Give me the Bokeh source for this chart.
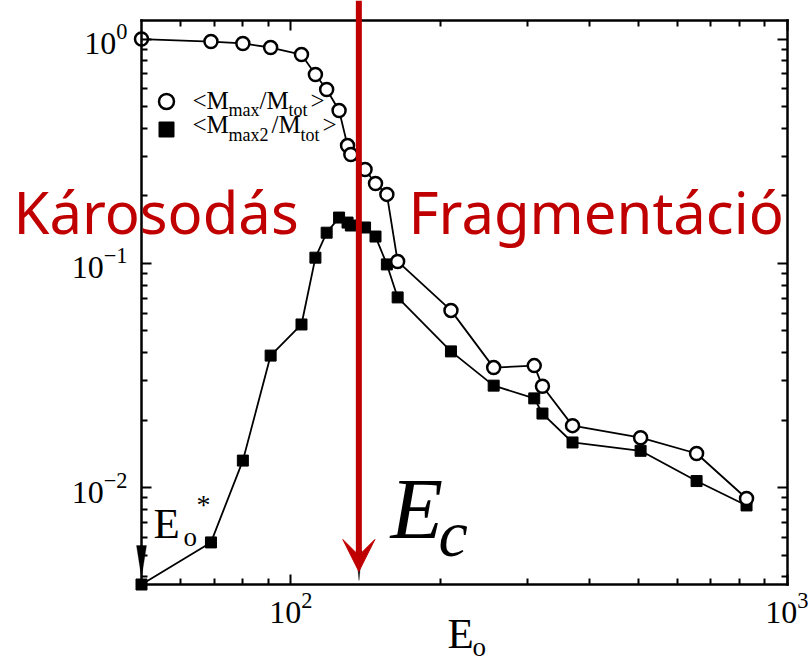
import numpy as np
from bokeh.plotting import figure
from bokeh.models import (Label, Arrow, VeeHead, FixedTicker, LogAxis,
                          PolyAnnotation, ColumnDataSource)
from bokeh.embed import file_html
from bokeh.resources import INLINE

# Impact energy E_o and the mean mass fractions of the largest fragments
energy = [50, 69, 80, 91, 105, 112, 118, 125, 130, 132, 141, 148, 156, 164,
          210, 256, 309, 321, 369, 506, 656, 827]
m_max = [1.0, 0.975, 0.956, 0.917, 0.853, 0.695, 0.596, 0.480, 0.335, 0.306,
         0.262, 0.227, 0.203, 0.102, 0.0617, 0.0343, 0.0350, 0.0283, 0.0189,
         0.0167, 0.0142, 0.00895]
m_max2 = [0.0037, 0.0057, 0.0132, 0.0388, 0.0534, 0.106, 0.137, 0.160, 0.152,
          0.1475, 0.1445, 0.1317, 0.0989, 0.0705, 0.0405, 0.0285, 0.0250,
          0.0214, 0.0159, 0.0146, 0.0107, 0.00833]

# critical energy separating damage and fragmentation
e_critical = 137
# threshold energy E_o*
e_star = 50

x_major = [100, 1000]
x_minor = [60, 70, 80, 90, 200, 300, 400, 500, 600, 700, 800, 900]
y_major = [0.01, 0.1, 1]
y_minor = [0.004, 0.005, 0.006, 0.007, 0.008, 0.009,
           0.02, 0.03, 0.04, 0.05, 0.06, 0.07, 0.08, 0.09,
           0.2, 0.3, 0.4, 0.5, 0.6, 0.7, 0.8, 0.9]

# axis box limits
X0, X1 = 50, 1000
Y0, Y1 = 0.0037, 1.21

# canvas size and the axis box in canvas pixels; the plot frame fills the
# whole canvas so that labels and the arrow may sit outside the axis box
W, H = 808, 665
L, R, T, B = 141, 787, 20, 584
KX = (np.log10(X1) - np.log10(X0)) / (R - L)
KY = (np.log10(Y1) - np.log10(Y0)) / (B - T)


def xd(px):
    """canvas x pixel -> data x (log scale)"""
    return 10 ** (np.log10(X0) + (px - L) * KX)


def yd(py):
    """canvas y pixel (from top) -> data y (log scale)"""
    return 10 ** (np.log10(Y1) - (py - T) * KY)


p = figure(width=W, height=H, x_range=(xd(0), xd(W)), y_range=(yd(H), yd(0)),
           x_axis_type="log", y_axis_type="log",
           output_backend="svg", toolbar_location=None,
           min_border_left=0, min_border_right=0,
           min_border_top=0, min_border_bottom=0)
p.background_fill_color = "white"
p.border_fill_color = "white"
p.outline_line_color = None
p.xgrid.visible = False
p.ygrid.visible = False

SERIF = "Liberation Serif"


def style_axis(ax, show_labels=True):
    ax.axis_line_width = 2.5
    ax.axis_line_color = "black"
    ax.axis_line_cap = "square"
    ax.major_tick_in = 10
    ax.major_tick_out = 0
    ax.minor_tick_in = 6
    ax.minor_tick_out = 0
    ax.major_tick_line_width = 2
    ax.minor_tick_line_width = 2
    ax.major_label_text_font = SERIF
    ax.major_label_text_color = "black"
    if show_labels:
        ax.major_label_text_font_size = "32px"
    else:
        ax.major_label_text_font_size = "1px"
        ax.major_label_text_alpha = 0
        ax.major_label_standoff = 0


for ax in p.xaxis:
    ax.ticker = FixedTicker(ticks=x_major, minor_ticks=x_minor)
    style_axis(ax)
    ax.major_label_standoff = 8
    ax.fixed_location = Y0
    ax.bounds = (X0, X1)
for ax in p.yaxis:
    ax.ticker = FixedTicker(ticks=y_major, minor_ticks=y_minor)
    style_axis(ax)
    ax.major_label_standoff = 14
    ax.fixed_location = X0
    ax.bounds = (Y0, Y1)

top_axis = LogAxis(ticker=FixedTicker(ticks=x_major, minor_ticks=x_minor),
                   fixed_location=Y1, bounds=(X0, X1))
right_axis = LogAxis(ticker=FixedTicker(ticks=y_major, minor_ticks=y_minor),
                     fixed_location=X1, bounds=(Y0, Y1))
style_axis(top_axis, show_labels=False)
style_axis(right_axis, show_labels=False)
p.add_layout(top_axis, "above")
p.add_layout(right_axis, "right")

src = ColumnDataSource(dict(e=energy, m1=m_max, m2=m_max2))

# series lines and markers
p.line("e", "m2", source=src, line_color="black", line_width=1.8)
p.line("e", "m1", source=src, line_color="black", line_width=1.8)
p.scatter("e", "m2", source=src, marker="square", size=11,
          fill_color="black", line_color="black")
p.scatter("e", "m1", source=src, marker="circle", size=13,
          fill_color="white", line_color="black", line_width=2.5)

# legend keys
p.scatter([xd(166)], [yd(101)], marker="circle", size=15,
          fill_color="white", line_color="black", line_width=2.5)
p.scatter([xd(166)], [yd(129)], marker="square", size=15,
          fill_color="black", line_color="black")

MID = 0.385   # distance from text middle to baseline, in font sizes


def txt(px, base, s, size, font=SERIF, style="normal", color="black"):
    """text whose left edge is at px and whose baseline is at base"""
    p.add_layout(Label(x=xd(px), y=yd(base - MID * size), text=s,
                       text_font=font, text_font_style=style,
                       text_font_size=f"{size}px", text_color=color,
                       text_align="left", text_baseline="middle"))


# legend texts with subscripts
LEG, SUB = 25, 18
for px, s, size, base in [(192, "<", LEG, 110), (206, "M", LEG, 110),
                          (228, "max", SUB, 116), (259, "/", LEG, 110),
                          (266, "M", LEG, 110), (288, "tot", SUB, 116),
                          (310, ">", LEG, 110)]:
    txt(px, base, s, size)
for px, s, size, base in [(192, "<", LEG, 134), (206, "M", LEG, 134),
                          (228, "max2", SUB, 141), (271, "/", LEG, 134),
                          (278, "M", LEG, 134), (300, "tot", SUB, 141),
                          (322, ">", LEG, 134)]:
    txt(px, base, s, size)

# regime labels
RED = "#C00000"
txt(13, 233, "Károsodás", 58, font="Noto Sans", color=RED)
txt(408, 233, "Fragmentáció", 58, font="Noto Sans", color=RED)

# threshold marker E_o*
p.add_layout(PolyAnnotation(xs=[xd(136), xd(146), xd(141)],
                            ys=[yd(545), yd(545), yd(577)],
                            fill_color="black", fill_alpha=1,
                            line_color="black", line_width=1))
txt(153, 540, "E", 43)
txt(183, 547, "o", 27)
txt(196, 515, "*", 28)

# critical energy arrow
p.add_layout(PolyAnnotation(xs=[xd(355.5), xd(361.5), xd(358.5)],
                            ys=[yd(550), yd(550), yd(580)],
                            fill_color="black", fill_alpha=1,
                            line_color="black", line_width=1))
p.add_layout(Arrow(x_start=e_critical, y_start=yd(0), x_end=e_critical,
                   y_end=yd(571), line_color=RED, line_width=6,
                   end=VeeHead(size=32, fill_color=RED, line_color=RED,
                               line_width=1)))
txt(390, 542, "E", 86, style="italic")
txt(438, 558, "c", 66, style="italic")

# x axis title E_o
txt(447, 650, "E", 43)
txt(472, 657, "o", 27)

open("out.html", "w").write(file_html(p, INLINE))
